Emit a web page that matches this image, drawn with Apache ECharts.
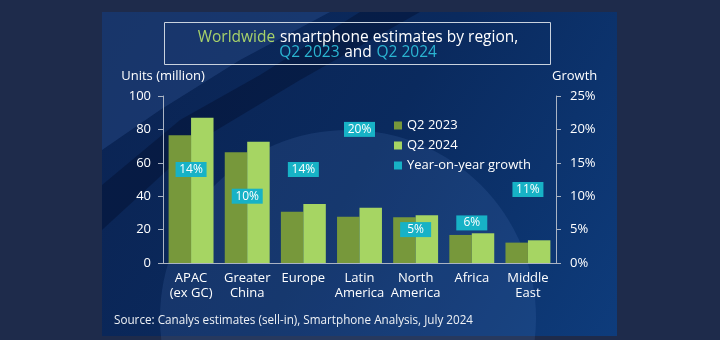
<!DOCTYPE html>
<html>
<head>
<meta charset="utf-8">
<script src="https://cdn.jsdelivr.net/npm/echarts@6/dist/echarts.min.js"></script>
<style>
html,body{margin:0;padding:0;background:#1e2b4b;}
#c{width:720px;height:340px;}
</style>
</head>
<body>
<div id="c"></div>
<script>
var categories = ['APAC\n(ex GC)', 'Greater\nChina', 'Europe', 'Latin\nAmerica', 'North\nAmerica', 'Africa', 'Middle\nEast'];
var q2_2023 = [76.5, 66.3, 30.7, 27.7, 27.4, 16.8, 12.2];
var q2_2024 = [87.0, 72.6, 35.3, 33.1, 28.6, 17.8, 13.6];
var growth = [14, 10, 14, 20, 5, 6, 11];
var leftTicks = [0, 20, 40, 60, 80, 100];
var rightTicks = [0, 5, 10, 15, 20, 25];

var FONT = '"Open Sans", Lato, sans-serif';
var chart = echarts.init(document.getElementById('c'), null, {renderer: 'canvas'});

var option = {
  backgroundColor: '#1e2b4b',
  textStyle: {fontFamily: FONT},
  graphic: [
    {type: 'rect', z: -10, shape: {x: 102, y: 12, width: 515, height: 324},
      style: {fill: new echarts.graphic.LinearGradient(0, 0, 1, 1, [
        {offset: 0, color: '#0b2352'}, {offset: 0.5, color: '#0a2a5e'}, {offset: 1, color: '#0e3c7c'}])}},
    {type: 'polygon', z: -9, shape: {points: [[102, 12], [330, 12], [240, 60], [160, 110], [102, 150]]},
      style: {fill: 'rgba(60,100,170,0.28)'}},
    {type: 'polygon', z: -9, shape: {points: [[102, 185], [180, 120], [260, 75], [360, 12], [420, 12], [300, 80], [200, 140], [102, 230]]},
      style: {fill: 'rgba(0,10,35,0.35)'}},
    {type: 'circle', z: -8, shape: {cx: 348, cy: 318, r: 188},
      style: {fill: 'rgba(90,130,200,0.16)'}},
    {type: 'rect', z: 5, shape: {x: 164.5, y: 22.5, width: 386, height: 42},
      style: {fill: 'none', stroke: '#c9d2de', lineWidth: 1}},
    {type: 'text', z: 5, left: 114, top: 315,
      style: {text: 'Source: Canalys estimates (sell-in), Smartphone Analysis, July 2024', fill: '#eef1f5', font: '11.7px ' + FONT}}
  ],
  title: {
    left: 353, textAlign: 'center', top: 25,
    text: '{g|Worldwide} {w|smartphone estimates by region,}\n{t|Q2 2023} {w|and} {t|Q2 2024}',
    textStyle: {
      lineHeight: 15,
      rich: {
        g: {color: '#a7d26a', fontSize: 15.5, fontFamily: FONT, fontWeight: 'normal', lineHeight: 15},
        w: {color: '#ffffff', fontSize: 15.5, fontFamily: FONT, fontWeight: 'normal', lineHeight: 15},
        t: {color: '#2bb5d2', fontSize: 15.5, fontFamily: FONT, fontWeight: 'normal', lineHeight: 15}
      }
    }
  },
  legend: {
    orient: 'vertical', left: 389, top: 114, itemWidth: 8, itemHeight: 8, itemGap: 7,
    icon: 'rect',
    textStyle: {color: '#ffffff', fontSize: 13, fontFamily: FONT},
    data: ['Q2 2023', 'Q2 2024', 'Year-on-year growth']
  },
  grid: {left: 163, right: 164, top: 96, bottom: 77},
  xAxis: {
    type: 'category', data: categories,
    axisLine: {lineStyle: {color: '#aab4c4', width: 1}},
    axisTick: {show: false},
    axisLabel: {color: '#ffffff', fontSize: 13, fontFamily: FONT, lineHeight: 15, margin: 8, interval: 0}
  },
  yAxis: [
    {
      type: 'value', min: leftTicks[0], max: leftTicks[leftTicks.length - 1], interval: 20,
      name: 'Units (million)', nameLocation: 'end', nameGap: 13,
      nameTextStyle: {color: '#ffffff', fontSize: 13, fontFamily: FONT, align: 'center'},
      axisLine: {show: true, lineStyle: {color: '#aab4c4'}},
      axisTick: {show: true, length: 5, lineStyle: {color: '#aab4c4'}},
      axisLabel: {color: '#ffffff', fontSize: 13, fontFamily: FONT, margin: 12},
      splitLine: {show: false}
    },
    {
      type: 'value', min: rightTicks[0], max: rightTicks[rightTicks.length - 1], interval: 5,
      name: 'Growth', nameLocation: 'end', nameGap: 13,
      nameTextStyle: {color: '#ffffff', fontSize: 13, fontFamily: FONT, align: 'left', padding: [0, 0, 0, -4]},
      axisLine: {show: true, lineStyle: {color: '#aab4c4'}},
      axisTick: {show: true, length: 5, lineStyle: {color: '#aab4c4'}},
      axisLabel: {color: '#ffffff', fontSize: 13, fontFamily: FONT, margin: 14, formatter: '{value}%'},
      splitLine: {show: false}
    }
  ],
  series: [
    {name: 'Q2 2023', type: 'bar', data: q2_2023, barGap: '0%', barCategoryGap: '20%',
      itemStyle: {color: '#77983b'}},
    {name: 'Q2 2024', type: 'bar', data: q2_2024, barGap: '0%', barCategoryGap: '20%',
      itemStyle: {color: '#a6d563'}},
    {name: 'Year-on-year growth', type: 'scatter', yAxisIndex: 1, data: growth,
      symbol: 'rect', symbolSize: [31, 15], z: 10,
      itemStyle: {color: '#17b2c6', opacity: 1},
      label: {show: true, position: 'inside', color: '#ffffff', fontSize: 12, fontFamily: FONT,
        formatter: function (p) { return p.value + '%'; }}}
  ]
};
chart.setOption(option);
</script>
</body>
</html>
